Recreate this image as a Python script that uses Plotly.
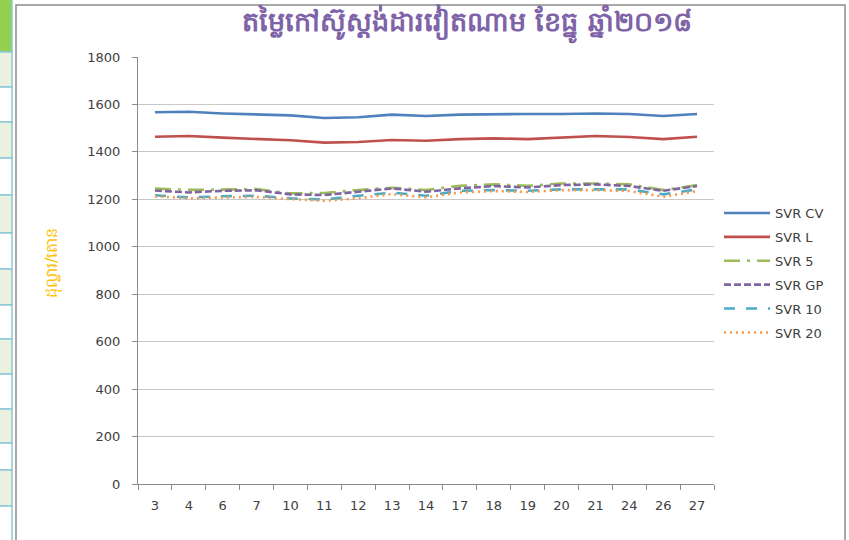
import plotly.graph_objects as go

categories = ["3", "4", "6", "7", "10", "11", "12", "13", "14", "17", "18", "19", "20", "21", "24", "26", "27"]
svr_cv = [1567, 1569, 1562, 1558, 1554, 1543, 1546, 1557, 1551, 1557, 1560, 1560, 1560, 1562, 1560, 1551, 1560]
svr_l = [1464, 1467, 1460, 1454, 1449, 1439, 1442, 1450, 1447, 1454, 1457, 1454, 1460, 1467, 1463, 1454, 1464]
svr_5 = [1245, 1240, 1241, 1243, 1225, 1227, 1239, 1249, 1239, 1257, 1263, 1257, 1267, 1267, 1263, 1239, 1260]
svr_gp = [1237, 1229, 1236, 1238, 1221, 1218, 1232, 1246, 1232, 1246, 1256, 1250, 1260, 1263, 1256, 1236, 1256]
svr_10 = [1217, 1208, 1213, 1215, 1204, 1199, 1215, 1228, 1215, 1236, 1239, 1236, 1242, 1242, 1242, 1221, 1242]
svr_20 = [1213, 1204, 1208, 1210, 1201, 1194, 1204, 1222, 1208, 1229, 1235, 1231, 1239, 1239, 1235, 1211, 1235]
y_ticks = [0, 200, 400, 600, 800, 1000, 1200, 1400, 1600, 1800]

title_text = "តម្លៃកៅស៊ូស្តង់ដារវៀតណាម ខែធ្នូ ឆ្នាំ២០១៨"
y_title = "ដុល្លារ/តោន"

series = [
    ("SVR CV", svr_cv, "#4F81BD", "solid"),
    ("SVR L", svr_l, "#C0504D", "solid"),
    ("SVR 5", svr_5, "#9BBB59", "16px,7px,3px,7px"),
    ("SVR GP", svr_gp, "#8064A2", "7px,3px"),
    ("SVR 10", svr_10, "#4BACC6", "11px,11px"),
    ("SVR 20", svr_20, "#F79646", "2px,4px"),
]

W, H = 849, 540
L, R, T, B = 138, 714, 57, 484


def px(x):
    return (x - L) / (R - L)


def py(y):
    return (B - y) / (B - T)


fig = go.Figure()
for name, vals, color, dash in series:
    fig.add_trace(go.Scatter(
        x=categories, y=vals, name=name, mode="lines", legendgroup=name,
        line=dict(color=color, width=2.6, dash=dash),
    ))

shapes = []
# spreadsheet cells on the left
rows = [-2, 52, 87, 122, 158, 195, 233, 269, 305, 339, 374, 409, 443, 470, 506, 545]
for i in range(len(rows) - 1):
    if i == 0:
        fill = "#92D050"
    elif i % 2 == 1:
        fill = "#EBF1DE"
    else:
        fill = "#FFFFFF"
    shapes.append(dict(type="rect", xref="paper", yref="paper",
                       x0=px(-3), x1=px(12), y0=py(rows[i + 1]), y1=py(rows[i]),
                       fillcolor=fill, line=dict(color="#8DC7D8", width=1.5), layer="below"))
# chart frame
shapes.append(dict(type="rect", xref="paper", yref="paper",
                   x0=px(16), x1=px(845), y0=py(548), y1=py(5),
                   fillcolor="rgba(0,0,0,0)", line=dict(color="#8C8C8C", width=1.5), layer="below"))

fig.update_layout(
    width=W, height=H,
    margin=dict(l=L, r=W - R, t=T, b=H - B, autoexpand=False),
    paper_bgcolor="white", plot_bgcolor="white",
    font=dict(family="DejaVu Sans", color="#404040", size=12),
    showlegend=True,
    legend=dict(x=px(719), y=py(198), xanchor="left", yanchor="top",
                font=dict(size=13, color="#404040"), tracegroupgap=4,
                bgcolor="rgba(0,0,0,0)", itemwidth=46),
    shapes=shapes,
    annotations=[
        dict(text="<b>" + title_text + "</b>", xref="paper", yref="paper", x=px(467), y=py(24),
             xanchor="center", yanchor="middle", showarrow=False,
             font=dict(size=27, color="#7F63A8")),
        dict(text=y_title, xref="paper", yref="paper", x=px(52), y=py(263),
             xanchor="center", yanchor="middle", showarrow=False, textangle=-90,
             font=dict(size=16, color="#FFC000")),
    ],
)
fig.update_xaxes(
    type="category", range=[-0.5, len(categories) - 0.5],
    tickson="boundaries", ticks="outside", ticklen=5,
    tickcolor="#8C8C8C", showline=True, linecolor="#8C8C8C", linewidth=1,
    showgrid=False, tickfont=dict(size=13, color="#404040"), ticklabelstandoff=9,
)
fig.update_yaxes(
    range=[0, 1800], tickvals=y_ticks, ticks="outside", ticklen=5,
    tickcolor="#8C8C8C", showline=True, linecolor="#8C8C8C", linewidth=1,
    showgrid=True, gridcolor="#C8C8C8", gridwidth=1, zeroline=False,
    tickfont=dict(size=13, color="#404040"), ticklabelstandoff=9,
)

fig.write_html("out.html", config={"displayModeBar": False},
               post_script="document.body.style.margin='0';")
